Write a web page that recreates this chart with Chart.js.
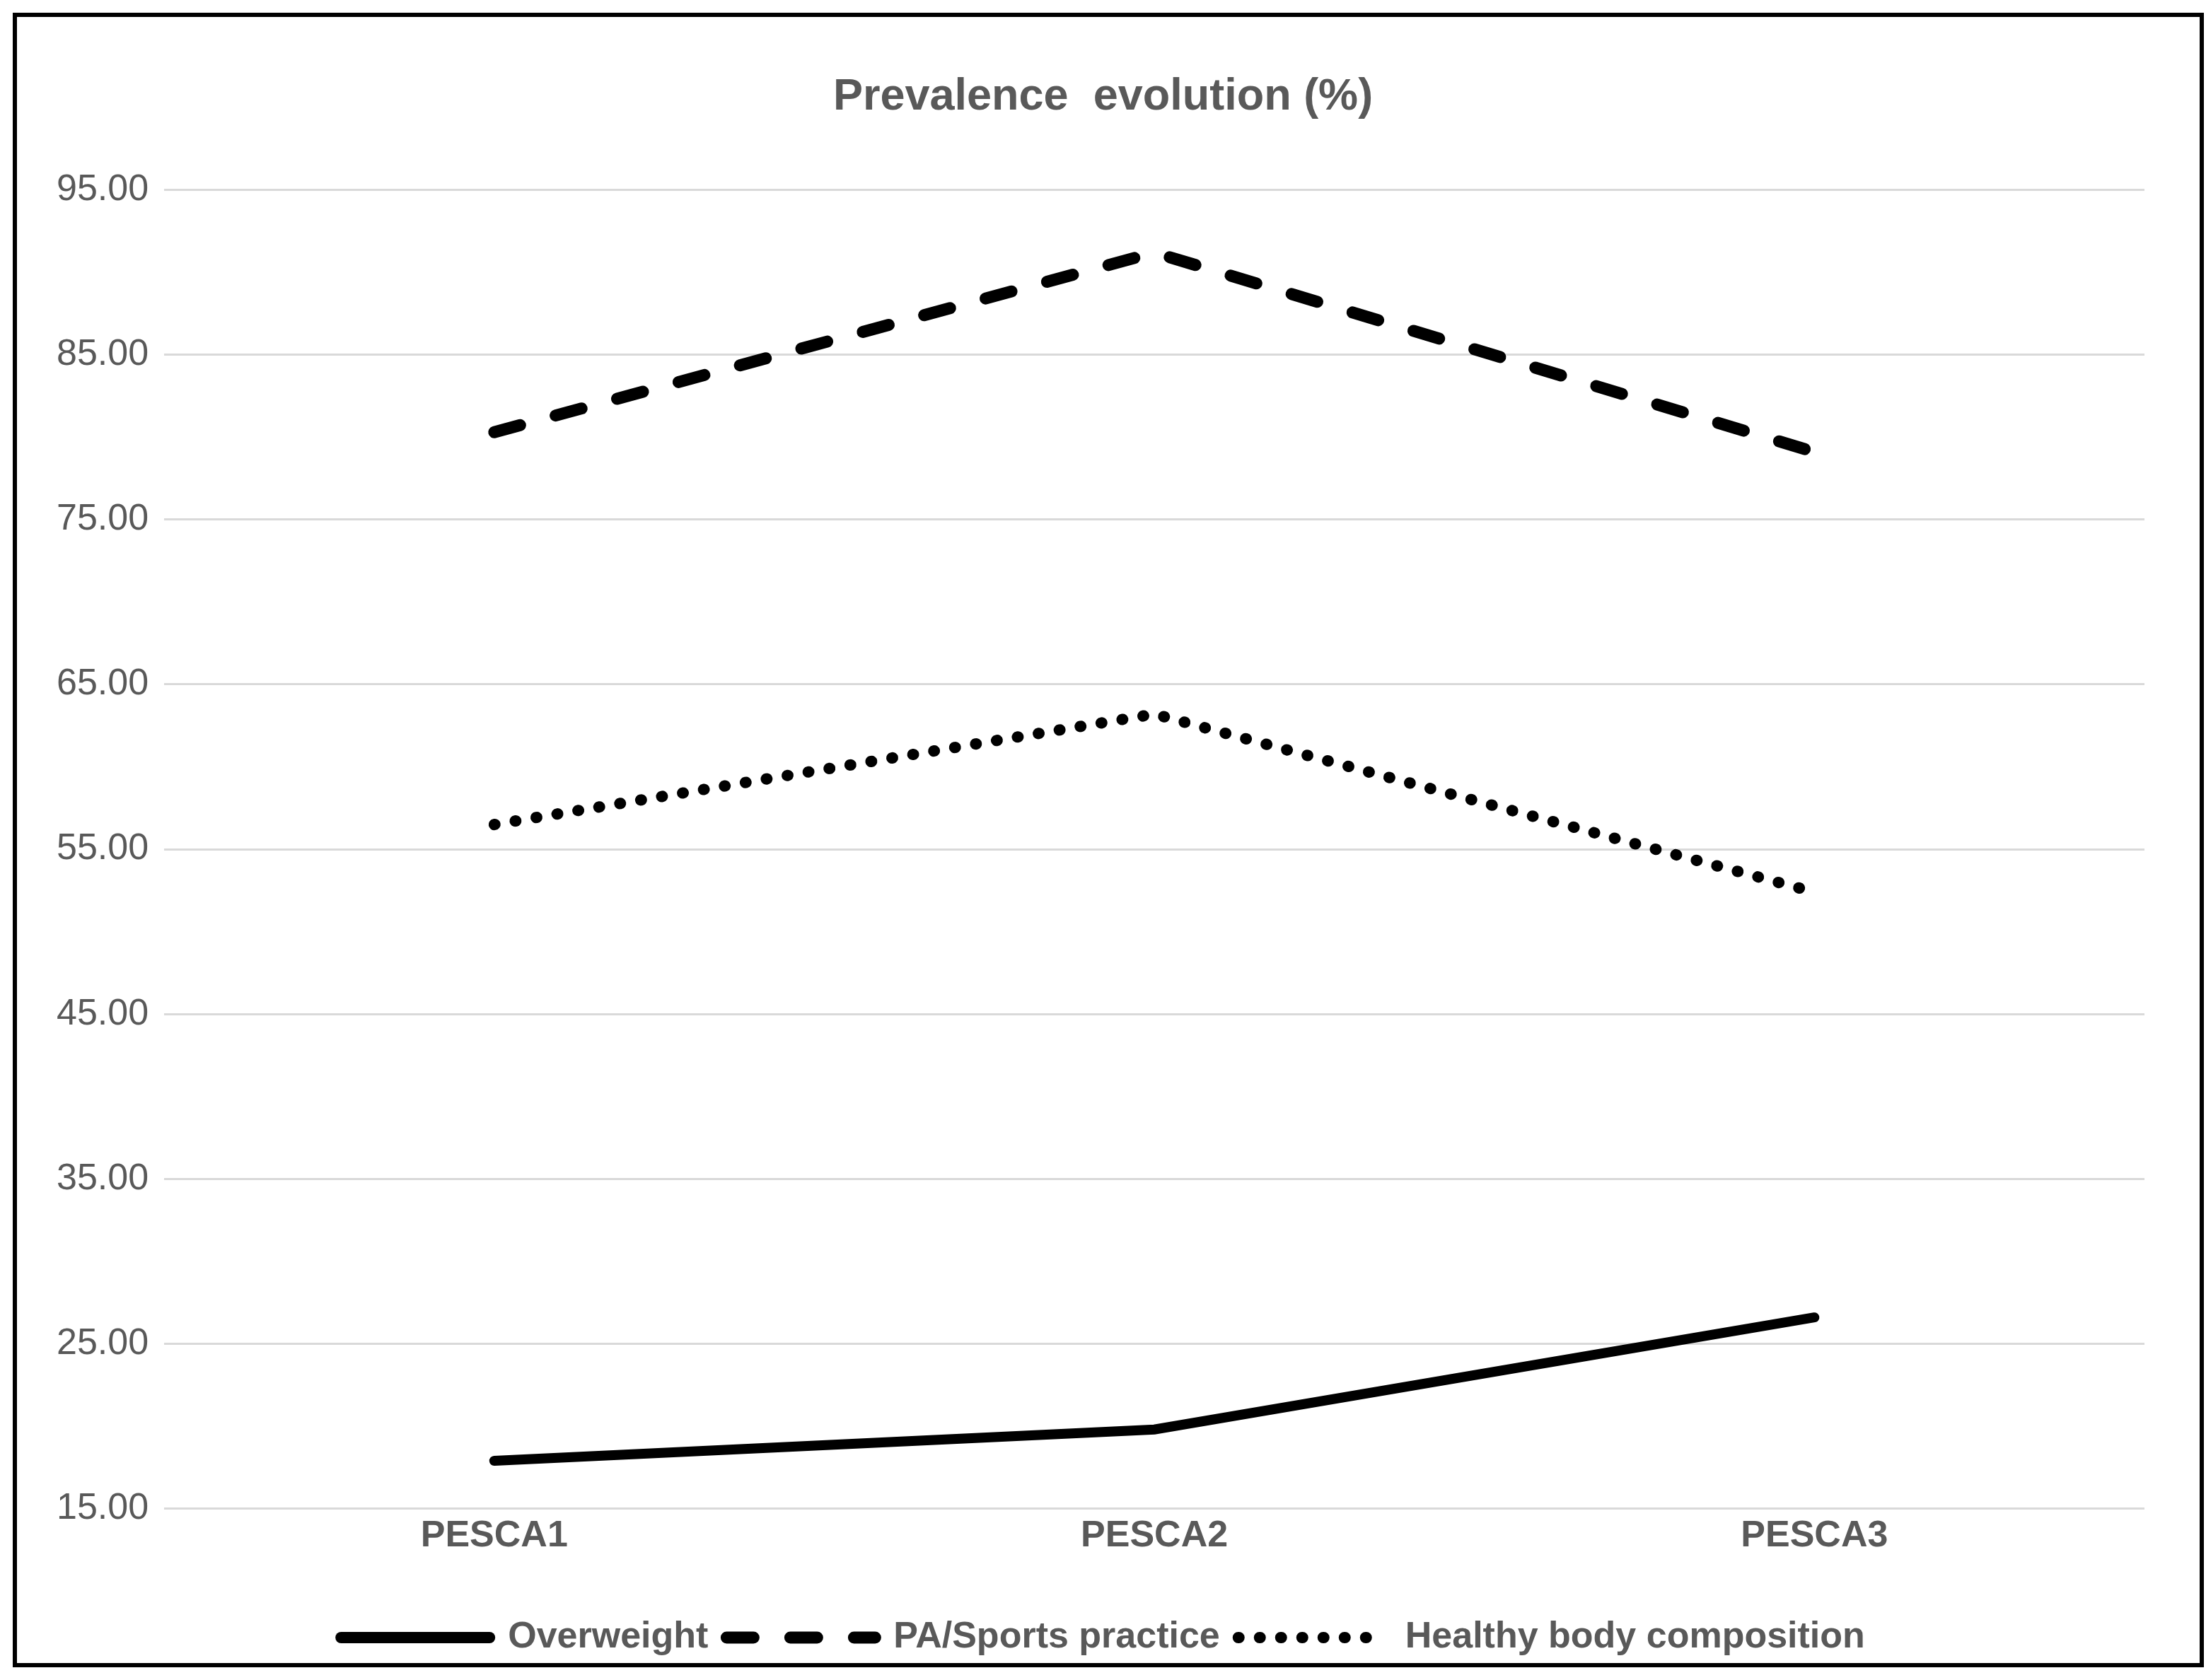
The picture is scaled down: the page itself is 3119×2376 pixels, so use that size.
<!DOCTYPE html>
<html>
<head>
<meta charset="utf-8">
<script src="https://cdn.jsdelivr.net/npm/chart.js@4.4.1/dist/chart.umd.min.js"></script>
<style>
  html, body { margin: 0; padding: 0; background: #ffffff; }
  #wrap { position: absolute; left: 0; top: 0; width: 3119px; height: 2376px; }
  #frame {
    position: absolute; left: 18px; top: 18px; width: 3098px; height: 2340px;
    border: 6px solid #000; box-sizing: border-box; pointer-events: none;
  }
</style>
</head>
<body>
<div id="wrap">
  <canvas id="chart"></canvas>
</div>
<div id="frame"></div>
<script>
// данные графика
const categories = ['PESCA1', 'PESCA2', 'PESCA3'];
const overweight = [17.9, 19.8, 26.6];
const sportsPractice = [80.3, 91.2, 79.1];
const healthyBody = [56.5, 63.2, 52.4];
const yTicks = [15, 25, 35, 45, 55, 65, 75, 85, 95];

const textColor = '#595959';
const fontFamily = '"Liberation Sans", Arial, sans-serif';

// заголовок и легенда по центру всего холста, а не области с отступами
const centerBlocks = {
    id: 'centerBlocks',
    afterLayout(chart) {
        [chart.titleBlock, chart.legend].forEach(b => {
            if (b) {
                b.left = 0;
                b.right = chart.width;
                b.width = chart.width;
            }
        });
    }
};

const ctx = document.getElementById('chart').getContext('2d');

new Chart(ctx, {
    type: 'line',
    data: {
        labels: categories,
        datasets: [{
            label: 'Overweight',
            data: overweight,
            borderColor: '#000',
            backgroundColor: '#000',
            borderWidth: 14,
            borderCapStyle: 'round',
            pointStyle: 'line',
            pointRadius: 0,
            tension: 0
        }, {
            label: 'PA/Sports practice',
            data: sportsPractice,
            borderColor: '#000',
            backgroundColor: '#000',
            borderWidth: 17,
            borderDash: [38, 52], // длинный штрих
            borderCapStyle: 'round',
            pointStyle: 'line',
            pointRadius: 0,
            tension: 0
        }, {
            label: 'Healthy body composition',
            data: healthyBody,
            borderColor: '#000',
            backgroundColor: '#000',
            borderWidth: 16,
            borderDash: [1, 29], // круглые точки
            borderCapStyle: 'round',
            pointStyle: 'line',
            pointRadius: 0,
            tension: 0
        }]
    },
    options: {
        responsive: true,
        maintainAspectRatio: false,
        animation: false,
        layout: {
            padding: { left: 58, right: 87, top: 20, bottom: 24 }
        },
        plugins: {
            title: {
                display: true,
                text: 'Prevalence  evolution (%)',
                color: textColor,
                font: { family: fontFamily, size: 63, weight: 'bold' },
                padding: { top: 80, bottom: 93 }
            },
            legend: {
                position: 'bottom',
                labels: {
                    usePointStyle: true,
                    pointStyleWidth: 210,
                    color: textColor,
                    font: { family: fontFamily, size: 52, weight: 'bold' },
                    padding: 26,
                    // берем штрих и толщину линии прямо из набора данных
                    generateLabels: function(chart) {
                        const items = Chart.defaults.plugins.legend.labels.generateLabels(chart);
                        items.forEach(item => {
                            const ds = chart.data.datasets[item.datasetIndex];
                            item.lineDash = ds.borderDash || [];
                            item.lineCap = 'round';
                            item.lineWidth = Math.max(ds.borderWidth, 16);
                            item.strokeStyle = ds.borderColor;
                        });
                        return items;
                    }
                }
            },
            tooltip: { enabled: false }
        },
        scales: {
            x: {
                offset: true,
                grid: { display: false, drawTicks: false },
                border: { display: false },
                ticks: {
                    color: textColor,
                    font: { family: fontFamily, size: 52, weight: 'bold' },
                    padding: 8
                },
                afterFit: function(scale) {
                    scale.height += 52; // отступ до легенды
                }
            },
            y: {
                min: 15,
                max: 95,
                afterBuildTicks: function(scale) {
                    scale.ticks = yTicks.map(v => ({ value: v }));
                },
                grid: { color: '#d9d9d9', lineWidth: 3, drawTicks: false },
                border: { display: false },
                ticks: {
                    color: textColor,
                    font: { family: fontFamily, size: 52 },
                    padding: 22,
                    callback: v => Number(v).toFixed(2)
                }
            }
        }
    },
    plugins: [centerBlocks]
});
</script>
</body>
</html>
